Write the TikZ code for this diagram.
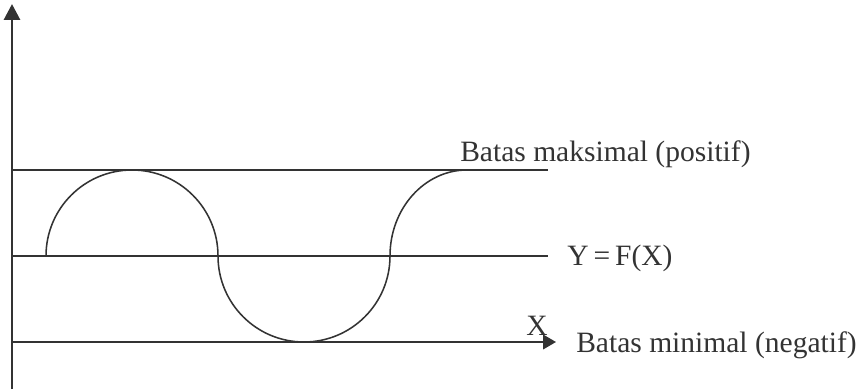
\documentclass[tikz,border=0pt]{standalone}
\usepackage{fontspec}
\setmainfont{Liberation Serif}
\usetikzlibrary{arrows.meta}
\definecolor{garis}{HTML}{333333}

\begin{document}
\begin{tikzpicture}[>={Triangle[length=0.4cm, width=0.4cm]}, line join=round,
    label/.style={inner sep=0pt, anchor=base west, text=garis, font=\fontsize{21}{25}\selectfont}]
    % Ukuran gambar
    \useasboundingbox (0, 0) rectangle (21.6, 9.725);

    % 1. Sumbu Y dan sumbu X
    \draw[->, line width=2.1pt, garis] (0.3, 0) -- (0.3, 9.625);
    \draw[-{Triangle[length=0.32cm, width=0.36cm]}, line width=1.4pt, garis] (0.3, 1.175) -- (13.9, 1.175);

    % 2. Batas maksimal dan garis Y = F(X)
    \draw[line width=1.4pt, garis] (0.3, 5.475) -- (13.7, 5.475);
    \draw[line width=1.1pt, garis] (0.3, 3.325) -- (13.7, 3.325);

    % 3. Kurva gelombang
    \draw[line width=1.1pt, garis] (1.15, 3.325) arc (180:0:2.15)
        arc (180:360:2.15)
        arc (180:90:1.925cm and 2.15cm);

    % 4. Keterangan
    \node[label] (maks) at (11.5, 5.675) {Batas maksimal (positif)};
    \node[label] (fx) at (14.175, 3.1) {Y\,=\,F(X)};
    \node[label] (sbx) at (13.15, 1.35) {X};
    \node[label] (min) at (14.4, 0.925) {Batas minimal (negatif)};

\end{tikzpicture}
\end{document}
